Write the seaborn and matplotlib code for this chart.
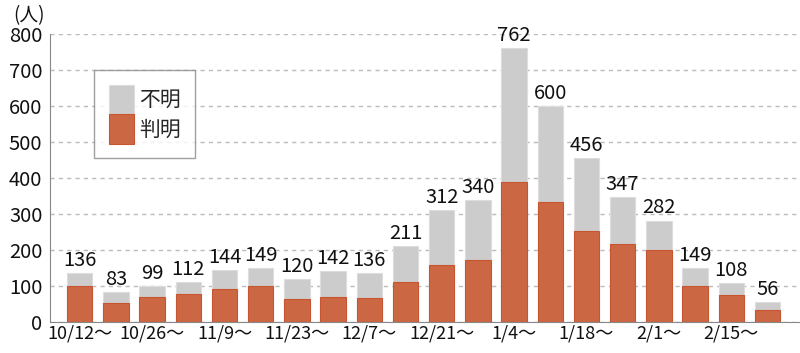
import pandas as pd
import matplotlib
matplotlib.use('Agg')
import matplotlib.pyplot as plt
import seaborn as sns

weeks = ['10/12〜', '10/19〜', '10/26〜', '11/2〜', '11/9〜', '11/16〜', '11/23〜',
         '11/30〜', '12/7〜', '12/14〜', '12/21〜', '12/28〜', '1/4〜', '1/11〜',
         '1/18〜', '1/25〜', '2/1〜', '2/8〜', '2/15〜', '2/22〜']
total = [136, 83, 99, 112, 144, 149, 120, 142, 136, 211, 312, 340, 762, 600,
         456, 347, 282, 149, 108, 56]
known = [100, 53, 70, 79, 92, 99, 64, 70, 67, 110, 159, 172, 390, 333,
         252, 217, 199, 101, 75, 32]

df = pd.DataFrame({'week': weeks, 'total': total, 'known': known})

sns.set_style('white')
plt.rcParams['font.family'] = ['Noto Sans CJK JP', 'DejaVu Sans']

fig = plt.figure(figsize=(8, 3.53), dpi=100)
ax = fig.add_axes([0.0625, 0.088, 0.9375, 0.815])

gray = '#cccccc'
orange = '#cb6843'
sns.barplot(data=df, x='week', y='total', color=gray, width=0.7,
            edgecolor='#dddddd', linewidth=0.8, saturation=1, ax=ax, label='不明')
sns.barplot(data=df, x='week', y='known', color=orange, width=0.7,
            edgecolor='#c8552f', linewidth=0.8, saturation=1, ax=ax, label='判明')

for i, v in enumerate(total):
    ax.text(i, v + 6, str(v), ha='center', va='bottom', fontsize=14.5, color='#111111')

ax.set_ylim(0, 800)
ax.set_xlim(-0.82, 19.9)
ax.set_yticks(range(0, 801, 100))
ax.set_xticks(range(0, 20, 2))
ax.set_xticklabels(weeks[::2], fontsize=13)
ax.tick_params(axis='y', labelsize=14.5)
ax.tick_params(axis='both', length=0, colors='#111111')
ax.tick_params(axis='x', pad=2)
ax.tick_params(axis='y', pad=5.5)
ax.set_xlabel('')
ax.set_ylabel('')
ax.yaxis.grid(True, linestyle=(0, (3, 3)), color='#bbbbbb', linewidth=1)
ax.set_axisbelow(True)
for s in ['top', 'right']:
    ax.spines[s].set_visible(False)
ax.spines['left'].set_color('#888888')
ax.spines['bottom'].set_color('#888888')

fig.text(0.036, 0.985, '(人)', fontsize=13.5, ha='center', va='top', color='#111111')

handles, labels = ax.get_legend_handles_labels()
leg = ax.legend(handles, labels, loc='upper left', bbox_to_anchor=(0.0587, 0.875),
                fontsize=15, frameon=True, fancybox=False, edgecolor='#888888',
                handlelength=1.2, handleheight=1.8, labelspacing=0,
                handletextpad=0.25, borderpad=0.7, borderaxespad=0)
leg.get_frame().set_linewidth(1)

fig.savefig('out.png', dpi=100)
